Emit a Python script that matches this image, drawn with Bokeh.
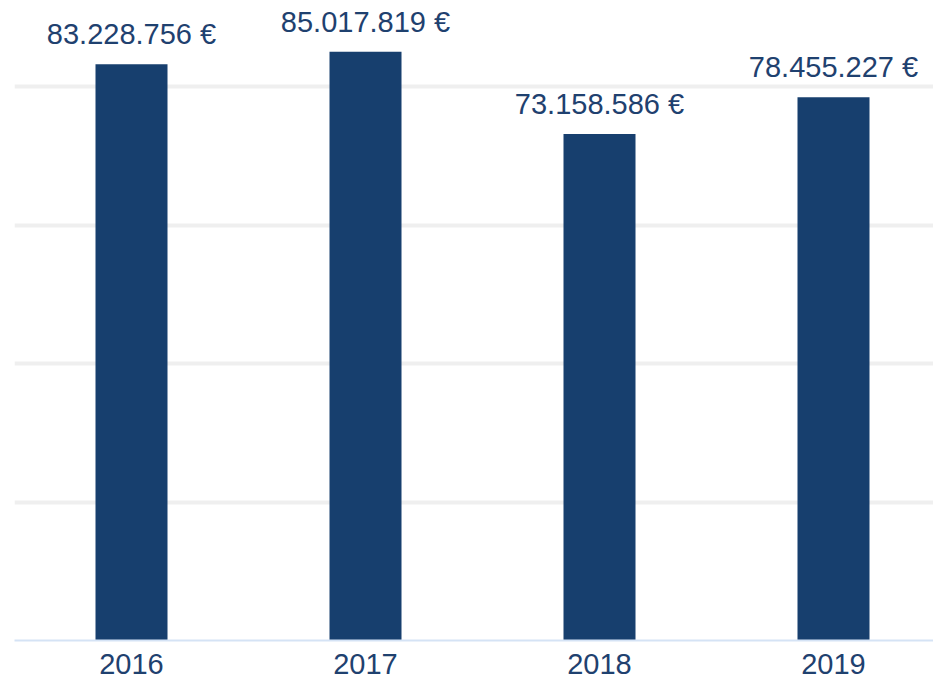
import numpy as np
from bokeh.plotting import figure
from bokeh.models import Range1d, FixedTicker, ColumnDataSource
from bokeh.core.properties import value
from bokeh.embed import file_html
from bokeh.resources import INLINE

years = ["2016", "2017", "2018", "2019"]
amounts = [83228756, 85017819, 73158586, 78455227]
labels = ["83.228.756 €", "85.017.819 €", "73.158.586 €", "78.455.227 €"]
grid_ticks = [20000000, 40000000, 60000000, 80000000]

xs = np.arange(len(years)) + 0.5
src = ColumnDataSource(dict(x=xs, top=amounts, label=labels))

W, H = 933, 681
left, right, top, bottom = 14, 0, 0, 41
frame_w = W - left - right
frame_h = H - top - bottom
px_per_unit = 234.0
px_per_20m = 138.5

p = figure(width=W, height=H, output_backend="svg", toolbar_location=None,
           x_range=Range1d(0, frame_w / px_per_unit),
           y_range=Range1d(0, frame_h / px_per_20m * 20000000),
           min_border_left=left, min_border_right=right,
           min_border_top=top, min_border_bottom=bottom)
p.outline_line_color = None
p.background_fill_color = "white"
p.border_fill_color = "white"

p.vbar(x="x", top="top", width=72 / px_per_unit, bottom=0, source=src,
       fill_color="#173F6E", line_color=None)

p.text(x="x", y="top", text="label", source=src, text_align="center",
       text_baseline="alphabetic", y_offset=-30, text_color="#1F416F",
       text_font=value("Liberation Sans"), text_font_size="29px")

p.yaxis.visible = False
p.ygrid.ticker = FixedTicker(ticks=grid_ticks)
p.ygrid.grid_line_color = "#EFEFEF"
p.ygrid.grid_line_width = 4
p.xgrid.visible = False

p.xaxis.ticker = FixedTicker(ticks=list(xs))
p.xaxis.major_label_overrides = {float(x): y for x, y in zip(xs, years)}
p.xaxis.axis_line_color = "#D5E3F5"
p.xaxis.axis_line_width = 2
p.xaxis.major_tick_line_color = None
p.xaxis.minor_tick_line_color = None
p.xaxis.major_label_text_font = "Liberation Sans"
p.xaxis.major_label_text_font_size = "29px"
p.xaxis.major_label_text_color = "#1F416F"
p.xaxis.major_label_standoff = 7

open("out.html", "w").write(file_html(p, INLINE))
